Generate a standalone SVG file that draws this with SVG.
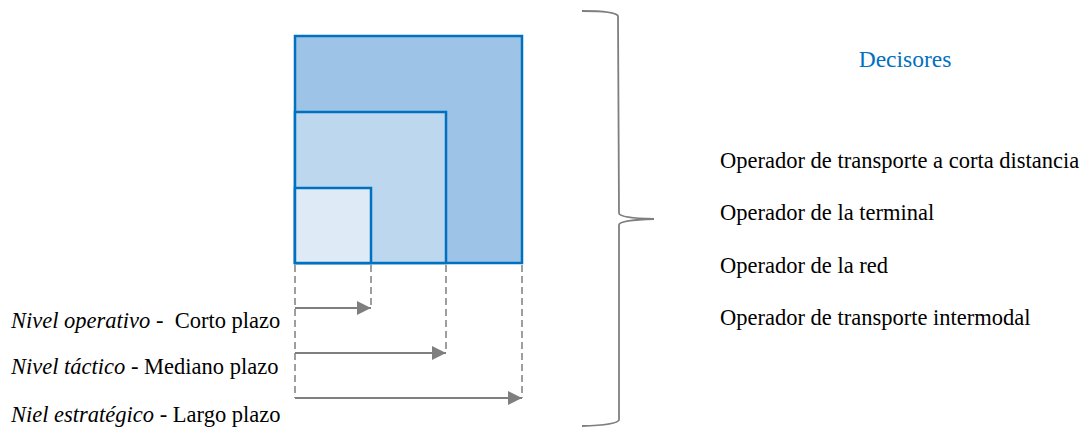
<svg xmlns="http://www.w3.org/2000/svg" width="1086" height="430" viewBox="0 0 1086 430">
<style>
text{font-family:"Liberation Serif","Times New Roman",serif;font-size:22.5px;fill:#000}
.sq{stroke:#0070C0;stroke-width:2.5}
.dash{stroke:#7F7F7F;stroke-width:1.5;stroke-dasharray:7,4;fill:none}
.arr{stroke:#7F7F7F;stroke-width:2.2;fill:none;marker-end:url(#ah)}
</style>
<defs>
<marker id="ah" viewBox="0 0 10 10" refX="10" refY="5" markerWidth="15" markerHeight="14" markerUnits="userSpaceOnUse" orient="auto">
<path d="M0,0 L10,5 L0,10 z" fill="#7F7F7F"/>
</marker>
</defs>
<rect width="1086" height="430" fill="#fff"/>
<g id="big"><rect class="sq" x="295" y="36" width="227" height="227" fill="#9DC3E6"/></g>
<g id="medium"><rect class="sq" x="295" y="112" width="151" height="151" fill="#BDD7EE"/></g>
<g id="small"><rect class="sq" x="295" y="188" width="76" height="75" fill="#DEEBF7"/></g>
<g id="connectors">
<line class="dash" x1="295" y1="265" x2="295" y2="398"/>
<line class="dash" x1="371" y1="265" x2="371" y2="308"/>
<line class="dash" x1="446" y1="265" x2="446" y2="353"/>
<line class="dash" x1="522" y1="265" x2="522" y2="398"/>
<line class="arr" x1="295" y1="308" x2="371" y2="308"/>
<line class="arr" x1="295" y1="353" x2="446" y2="353"/>
<line class="arr" x1="295" y1="398" x2="522" y2="398"/>
<path d="M582,11 Q616,11 618,16 L619,213 Q619,218 654,219 Q619,220 619,225 L619,420 Q617,425 582,426" fill="none" stroke="#7F7F7F" stroke-width="1.8"/>
</g>
<g id="labels-left">
<text x="11" y="328" xml:space="preserve"><tspan font-style="italic">Nivel operativo</tspan> -  Corto plazo</text>
<text x="11" y="374"><tspan font-style="italic">Nivel táctico</tspan> - Mediano plazo</text>
<text x="11" y="422"><tspan font-style="italic">Niel estratégico</tspan> - Largo plazo</text>
</g>
<g id="decisores">
<text x="905" y="67" text-anchor="middle" style="fill:#0070C0;font-size:23.5px">Decisores</text>
<text x="720" y="168">Operador de transporte a corta distancia</text>
<text x="720" y="220">Operador de la terminal</text>
<text x="720" y="273">Operador de la red</text>
<text x="720" y="325">Operador de transporte intermodal</text>
</g>
</svg>
